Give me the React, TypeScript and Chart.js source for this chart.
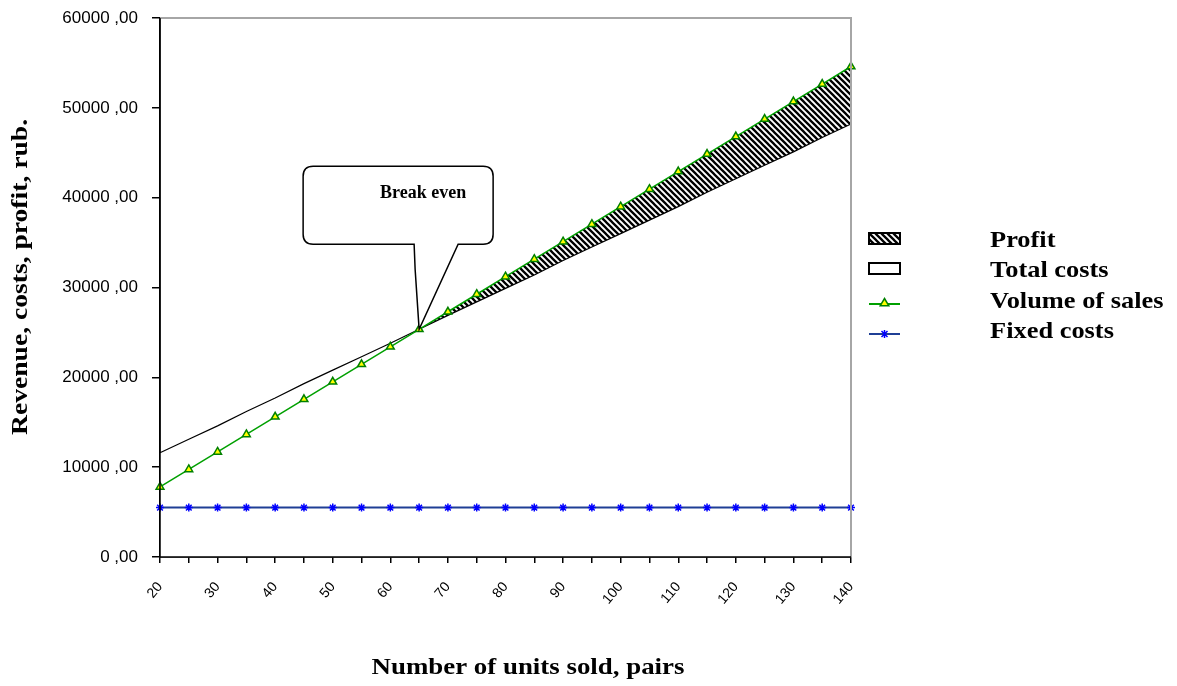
import { useEffect, useRef } from 'react';
import { Chart, registerables } from 'chart.js';

Chart.register(...registerables);

// ---- data ----
const units = ['20', '25', '30', '35', '40', '45', '50', '55', '60', '65', '70', '75', '80', '85', '90', '95', '100', '105', '110', '115', '120', '125', '130', '135', '140'];
const volumeOfSales = [7800, 9750, 11700, 13650, 15600, 17550, 19500, 21450, 23400, 25350, 27300, 29250, 31200, 33150, 35100, 37050, 39000, 40950, 42900, 44850, 46800, 48750, 50700, 52650, 54600];
const totalCosts = [11600, 13100, 14600, 16200, 17700, 19300, 20800, 22300, 23800, 25350, 26900, 28400, 29900, 31400, 33000, 34500, 36000, 37500, 39000, 40600, 42100, 43600, 45100, 46700, 48200];
const profit = [0, 0, 0, 0, 0, 0, 0, 0, 0, 0, 400, 850, 1300, 1750, 2100, 2550, 3000, 3450, 3900, 4250, 4700, 5150, 5600, 5950, 6400];
const fixedCosts = [5500, 5500, 5500, 5500, 5500, 5500, 5500, 5500, 5500, 5500, 5500, 5500, 5500, 5500, 5500, 5500, 5500, 5500, 5500, 5500, 5500, 5500, 5500, 5500, 5500];
const seriesNames = ['Profit', 'Total costs', 'Volume of sales', 'Fixed costs'];
const xTitle = 'Number of units sold, pairs';
const yTitle = 'Revenue, costs, profit, rub.';
const calloutText = 'Break even';
const breakEvenIndex = 9;
const yMin = 0;
const yMax = 60000;
const yStep = 10000;

const SERIF = '"Liberation Serif", "Times New Roman", serif';
const SANS = '"Liberation Sans", Arial, sans-serif';
const GREEN = '#00a000';
const YELLOW = '#ffff00';
const BLUE_LINE = '#1f3f95';
const BLUE_MARK = '#0000ff';

function makeHatch(): CanvasPattern | string {
  const c = document.createElement('canvas');
  c.width = 6;
  c.height = 6;
  const g = c.getContext('2d');
  if (!g) return '#444';
  g.fillStyle = '#ffffff';
  g.fillRect(0, 0, 6, 6);
  g.strokeStyle = '#000000';
  g.lineWidth = 2.3;
  g.beginPath();
  g.moveTo(-1, -1); g.lineTo(7, 7);
  g.moveTo(-4, 2); g.lineTo(2, 8);
  g.moveTo(2, -4); g.lineTo(8, 2);
  g.stroke();
  return g.createPattern(c, 'repeat') || '#444';
}

function stretchedText(ctx: CanvasRenderingContext2D, text: string, x: number, y: number, sx: number, rot = 0) {
  ctx.save();
  ctx.translate(x, y);
  if (rot) ctx.rotate(rot);
  ctx.scale(sx, 1);
  ctx.fillText(text, 0, 0);
  ctx.restore();
}

function triangle(ctx: CanvasRenderingContext2D, x: number, y: number, r: number) {
  ctx.beginPath();
  ctx.moveTo(x, y - r);
  ctx.lineTo(x + r * 0.95, y + r * 0.6);
  ctx.lineTo(x - r * 0.95, y + r * 0.6);
  ctx.closePath();
  ctx.fillStyle = YELLOW;
  ctx.fill();
  ctx.strokeStyle = '#008000';
  ctx.lineWidth = 1.5;
  ctx.stroke();
}

export default function App() {
  const ref = useRef<HTMLCanvasElement | null>(null);

  useEffect(() => {
    if (!ref.current) return;
    const hatch = makeHatch();

    const decor = {
      id: 'decor',
      afterDatasetsDraw(chart: any) {
        const { ctx, chartArea: a, scales } = chart;
        ctx.save();
        // grey frame on top and right
        ctx.strokeStyle = '#a6a6a6';
        ctx.lineWidth = 2;
        ctx.beginPath();
        ctx.moveTo(a.left, a.top);
        ctx.lineTo(a.right, a.top);
        ctx.lineTo(a.right, a.bottom);
        ctx.stroke();
        // black axis lines (left and bottom) on top of the area fills
        ctx.strokeStyle = '#000000';
        ctx.lineWidth = 1.5;
        ctx.beginPath();
        ctx.moveTo(a.left, a.top);
        ctx.lineTo(a.left, a.bottom);
        ctx.lineTo(a.right, a.bottom);
        ctx.stroke();

        // callout
        const px = scales.x.getPixelForValue(breakEvenIndex);
        const py = scales.y.getPixelForValue(volumeOfSales[breakEvenIndex]);
        const L = px - 116, R = px + 74, T = py - 163, B = py - 85, r = 10;
        ctx.beginPath();
        ctx.moveTo(L + r, T);
        ctx.lineTo(R - r, T);
        ctx.quadraticCurveTo(R, T, R, T + r);
        ctx.lineTo(R, B - r);
        ctx.quadraticCurveTo(R, B, R - r, B);
        ctx.lineTo(px + 39, B);
        ctx.lineTo(px, py);
        ctx.lineTo(px - 4, B + 25);
        ctx.lineTo(px - 5, B);
        ctx.lineTo(L + r, B);
        ctx.quadraticCurveTo(L, B, L, B - r);
        ctx.lineTo(L, T + r);
        ctx.quadraticCurveTo(L, T, L + r, T);
        ctx.closePath();
        ctx.fillStyle = '#ffffff';
        ctx.fill();
        ctx.strokeStyle = '#000000';
        ctx.lineWidth = 1.5;
        ctx.stroke();
        ctx.fillStyle = '#000000';
        ctx.font = `bold 18px ${SERIF}`;
        ctx.textAlign = 'center';
        ctx.textBaseline = 'middle';
        ctx.fillText(calloutText, px + 4, py - 136);
        ctx.restore();
      },
      afterDraw(chart: any) {
        const { ctx, chartArea: a } = chart;
        ctx.save();
        ctx.fillStyle = '#000000';
        ctx.textBaseline = 'middle';
        ctx.font = `bold 24px ${SERIF}`;
        // axis titles
        ctx.textAlign = 'center';
        stretchedText(ctx, xTitle, 528, 668, 1.12);
        stretchedText(ctx, yTitle, 21, 277, 1.15, -Math.PI / 2);

        // legend
        const sx = a.right + 18;
        const tx = 990;
        const rows = [241, 271, 302, 332];
        // Profit swatch
        ctx.fillStyle = hatch as any;
        ctx.fillRect(sx, 233, 31, 11);
        ctx.strokeStyle = '#000';
        ctx.lineWidth = 2;
        ctx.strokeRect(sx, 233, 31, 11);
        // Total costs swatch
        ctx.fillStyle = '#fff';
        ctx.fillRect(sx, 263, 31, 11);
        ctx.strokeRect(sx, 263, 31, 11);
        // Volume of sales
        ctx.strokeStyle = GREEN;
        ctx.lineWidth = 2;
        ctx.beginPath();
        ctx.moveTo(sx, 304);
        ctx.lineTo(sx + 31, 304);
        ctx.stroke();
        triangle(ctx, sx + 15.5, 303, 4.5);
        // Fixed costs
        ctx.strokeStyle = BLUE_LINE;
        ctx.lineWidth = 2;
        ctx.beginPath();
        ctx.moveTo(sx, 334);
        ctx.lineTo(sx + 31, 334);
        ctx.stroke();
        ctx.strokeStyle = BLUE_MARK;
        ctx.lineWidth = 1.5;
        ctx.beginPath();
        ctx.moveTo(sx + 12.5, 331); ctx.lineTo(sx + 18.5, 337);
        ctx.moveTo(sx + 18.5, 331); ctx.lineTo(sx + 12.5, 337);
        ctx.moveTo(sx + 15.5, 330); ctx.lineTo(sx + 15.5, 338);
        ctx.stroke();

        ctx.fillStyle = '#000';
        ctx.textAlign = 'left';
        seriesNames.forEach((n, i) => stretchedText(ctx, n, tx, rows[i], 1.1));
        ctx.restore();
      },
    };

    const chart = new Chart(ref.current, {
      type: 'line',
      data: {
        labels: units,
        datasets: [
          {
            label: seriesNames[1],
            data: totalCosts,
            stack: 'costs',
            fill: 'origin',
            backgroundColor: '#ffffff',
            borderColor: '#000000',
            borderWidth: 1.2,
            pointRadius: 0,
            order: 3,
          },
          {
            label: seriesNames[0],
            data: profit,
            stack: 'costs',
            fill: '-1',
            backgroundColor: hatch as any,
            borderColor: 'rgba(0,0,0,0)',
            borderWidth: 0,
            pointRadius: 0,
            order: 4,
          },
          {
            label: seriesNames[3],
            data: fixedCosts,
            stack: 'fixed',
            fill: false,
            borderColor: BLUE_LINE,
            borderWidth: 2,
            pointStyle: 'star',
            pointRadius: 4,
            pointBorderColor: BLUE_MARK,
            pointBackgroundColor: BLUE_MARK,
            pointBorderWidth: 1.5,
            order: 2,
          },
          {
            label: seriesNames[2],
            data: volumeOfSales,
            stack: 'sales',
            fill: false,
            borderColor: GREEN,
            borderWidth: 1.5,
            pointStyle: 'triangle',
            pointRadius: 4.5,
            pointBackgroundColor: YELLOW,
            pointBorderColor: '#008000',
            pointBorderWidth: 1.5,
            order: 1,
          },
        ],
      },
      options: {
        responsive: false,
        animation: false,
        devicePixelRatio: 1,
        layout: { padding: { top: 18, right: 326, left: 0, bottom: 0 } },
        elements: { line: { tension: 0 } },
        plugins: {
          legend: { display: false },
          tooltip: { enabled: false },
          title: { display: false },
        },
        scales: {
          x: {
            type: 'category',
            offset: false,
            grid: { display: true, drawOnChartArea: false, drawTicks: true, tickLength: 6, color: '#000', lineWidth: 1.5 },
            border: { display: true, color: '#000', width: 1.5 },
            ticks: {
              autoSkip: false,
              minRotation: 50,
              maxRotation: 50,
              padding: 16,
              color: '#000',
              font: { family: SANS, size: 14 },
              callback: (_v: any, i: number) => (i % 2 === 0 ? units[i] : ''),
            },
            afterFit: (s: any) => { s.height = 129; s.paddingLeft = 0; s.paddingRight = 0; },
          },
          y: {
            stacked: true,
            min: yMin,
            max: yMax,
            grid: { display: true, drawOnChartArea: false, drawTicks: true, tickLength: 8, color: '#000', lineWidth: 1.5 },
            border: { display: true, color: '#000', width: 1.5 },
            ticks: {
              stepSize: yStep,
              padding: 14,
              color: '#000',
              font: { family: SANS, size: 17 },
              callback: (v: any) => `${v} ,00`,
            },
            afterFit: (s: any) => { s.width = 160; s.paddingTop = 0; s.paddingBottom = 0; },
          },
        },
      },
      plugins: [decor],
    });
    return () => chart.destroy();
  }, []);

  return (
    <div style={{ position: 'absolute', left: 0, top: 0, width: 1177, height: 686, background: '#fff' }}>
      <canvas ref={ref} width={1177} height={686} style={{ display: 'block', width: 1177, height: 686 }} />
    </div>
  );
}
